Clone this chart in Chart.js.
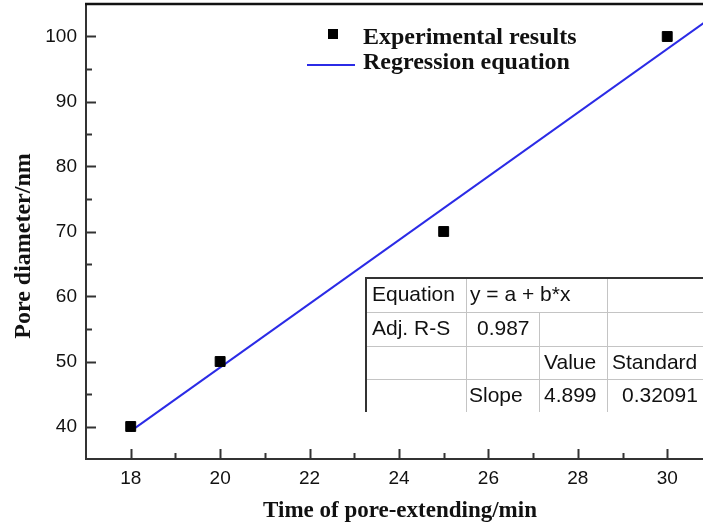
<!DOCTYPE html>
<html>
<head>
<meta charset="utf-8">
<script src="https://cdn.jsdelivr.net/npm/chart.js@4.4.0/dist/chart.umd.min.js"></script>
<style>
  html, body { margin: 0; padding: 0; background: #fff; }
  #wrap { width: 703px; height: 526px; position: relative; }
</style>
</head>
<body>
<div id="wrap"><canvas id="c" width="703" height="526"></canvas></div>
<script>
// Measured pore diameter against pore-extending time
const timeMin = [18, 20, 25, 30];
const poreDiameter = [40, 50, 70, 100];

// Linear fit y = a + b*x
const fitSlope = 4.899;
const fitIntercept = -48.9;
const fitRange = [18, 31];

// Axis ticks
const xTickValues = [18, 20, 22, 24, 26, 28, 30];
const xMinorValues = [19, 21, 23, 25, 27, 29];
const yTickValues = [40, 50, 60, 70, 80, 90, 100];
const yMinorValues = [45, 55, 65, 75, 85, 95];

// Fit summary table text (row by row)
const tableRows = [
  ['Equation', 'y = a + b*x', '', ''],
  ['Adj. R-S', '0.987', '', ''],
  ['', '', 'Value', 'Standard'],
  ['', 'Slope', '4.899', '0.32091']
];

const legendLabels = ['Experimental results', 'Regression equation'];
const xTitle = 'Time of pore-extending/min';
const yTitle = 'Pore diameter/nm';

const pointData = timeMin.map((t, i) => ({ x: t, y: poreDiameter[i] }));
const fitData = fitRange.map(t => ({ x: t, y: fitIntercept + fitSlope * t }));

const LINE_BLUE = '#2b2be6';
const SERIF = '"Liberation Serif", "Times New Roman", serif';
const SANS = '"Liberation Sans", Arial, sans-serif';

const decor = {
  id: 'decor',
  afterDraw(chart) {
    const { ctx, chartArea: a, scales: { x, y } } = chart;
    ctx.save();

    // top frame line
    ctx.strokeStyle = '#111';
    ctx.lineWidth = 2.5;
    ctx.beginPath();
    ctx.moveTo(a.left - 1, a.top);
    ctx.lineTo(a.right, a.top);
    ctx.stroke();

    // inward tick marks
    ctx.strokeStyle = '#333';
    ctx.lineWidth = 2;
    const xTicks = (vals, len) => vals.forEach(v => {
      const px = Math.round(x.getPixelForValue(v)) + 0.5;
      ctx.beginPath(); ctx.moveTo(px, a.bottom); ctx.lineTo(px, a.bottom - len); ctx.stroke();
    });
    const yTicks = (vals, len) => vals.forEach(v => {
      const py = Math.round(y.getPixelForValue(v)) + 0.5;
      ctx.beginPath(); ctx.moveTo(a.left, py); ctx.lineTo(a.left + len, py); ctx.stroke();
    });
    xTicks(xTickValues, 10); xTicks(xMinorValues, 6);
    yTicks(yTickValues, 10); yTicks(yMinorValues, 6);

    // axis titles
    ctx.fillStyle = '#111';
    ctx.textAlign = 'center';
    ctx.textBaseline = 'middle';
    ctx.font = 'bold 23px ' + SERIF;
    ctx.fillText(xTitle, 400, 511);
    ctx.save();
    ctx.translate(24, 246);
    ctx.rotate(-Math.PI / 2);
    ctx.font = 'bold 24px ' + SERIF;
    ctx.fillText(yTitle, 0, 0);
    ctx.restore();

    // legend
    const ds = chart.data.datasets;
    ctx.fillStyle = ds[0].backgroundColor;
    ctx.fillRect(328, 29, 10, 10);
    ctx.strokeStyle = ds[1].borderColor;
    ctx.lineWidth = 2;
    ctx.beginPath(); ctx.moveTo(307, 65); ctx.lineTo(355, 65); ctx.stroke();
    ctx.fillStyle = '#111';
    ctx.textAlign = 'left';
    ctx.textBaseline = 'alphabetic';
    ctx.font = 'bold 24px ' + SERIF;
    ctx.fillText(legendLabels[0], 363, 44);
    ctx.fillText(legendLabels[1], 363, 69);

    // fit summary table
    const colX = [366, 466, 539, 607, 720];
    const rowY = [278, 312, 346, 379, 412];
    const textX = [
      [372, 470, 0, 0],
      [372, 477, 0, 0],
      [0, 0, 544, 612],
      [0, 469, 544, 622]
    ];
    ctx.fillStyle = '#fff';
    ctx.fillRect(colX[0], rowY[0], colX[4] - colX[0], rowY[4] - rowY[0]);
    ctx.strokeStyle = '#c4c4c4';
    ctx.lineWidth = 1;
    for (let r = 1; r < 4; r++) {
      ctx.beginPath(); ctx.moveTo(colX[0], rowY[r] + 0.5); ctx.lineTo(colX[4], rowY[r] + 0.5); ctx.stroke();
    }
    [[1, 0], [2, 1], [3, 0]].forEach(([c, r0]) => {
      ctx.beginPath(); ctx.moveTo(colX[c] + 0.5, rowY[r0]); ctx.lineTo(colX[c] + 0.5, rowY[4]); ctx.stroke();
    });
    ctx.strokeStyle = '#333';
    ctx.lineWidth = 2;
    ctx.beginPath();
    ctx.moveTo(colX[0], rowY[4]);
    ctx.lineTo(colX[0], rowY[0]);
    ctx.lineTo(colX[4], rowY[0]);
    ctx.stroke();
    ctx.fillStyle = '#111';
    ctx.font = '21px ' + SANS;
    tableRows.forEach((row, r) => row.forEach((txt, c) => {
      if (txt) ctx.fillText(txt, textX[r][c], rowY[r] + 23);
    }));

    ctx.restore();
  }
};

const noEdgePadding = s => {
  s.paddingTop = 0; s.paddingBottom = 0; s.paddingLeft = 0; s.paddingRight = 0;
};

new Chart(document.getElementById('c'), {
  type: 'scatter',
  data: {
    datasets: [
      {
        label: legendLabels[0],
        data: pointData,
        pointStyle: 'rect',
        pointRadius: 7,
        pointHoverRadius: 7,
        backgroundColor: '#000',
        borderColor: '#000',
        borderWidth: 1,
        showLine: false,
        order: 1
      },
      {
        label: legendLabels[1],
        data: fitData,
        showLine: true,
        pointRadius: 0,
        borderColor: LINE_BLUE,
        backgroundColor: LINE_BLUE,
        borderWidth: 2,
        order: 2
      }
    ]
  },
  options: {
    responsive: false,
    animation: false,
    events: [],
    layout: { autoPadding: false, padding: { top: 4, right: 0, left: 0, bottom: 0 } },
    plugins: { legend: { display: false }, tooltip: { enabled: false } },
    scales: {
      x: {
        type: 'linear',
        min: 17,
        max: 30.8,
        afterBuildTicks: s => { s.ticks = xTickValues.map(v => ({ value: v })); },
        afterFit: s => { s.height = 67; noEdgePadding(s); },
        grid: { display: false, drawTicks: false },
        border: { display: true, color: '#333', width: 2 },
        ticks: { color: '#111', padding: 8, font: { family: SANS, size: 19 } }
      },
      y: {
        type: 'linear',
        min: 35,
        max: 105,
        afterBuildTicks: s => { s.ticks = yTickValues.map(v => ({ value: v })); },
        afterFit: s => { s.width = 86; noEdgePadding(s); },
        grid: { display: false, drawTicks: false },
        border: { display: true, color: '#333', width: 2 },
        ticks: { color: '#111', padding: 9, font: { family: SANS, size: 19 } }
      }
    }
  },
  plugins: [decor]
});
</script>
</body>
</html>
